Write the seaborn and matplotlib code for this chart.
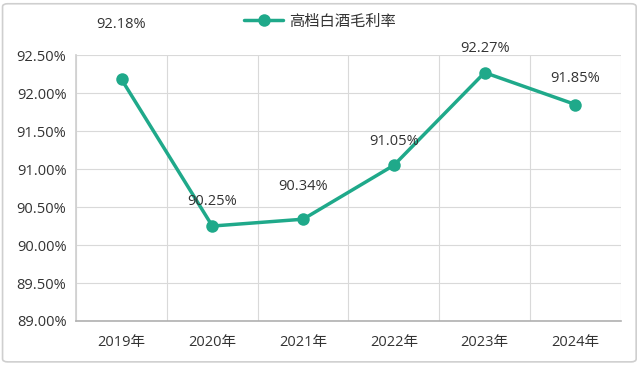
import matplotlib
matplotlib.use("Agg")
import matplotlib.pyplot as plt
import seaborn as sns
import pandas as pd
from matplotlib.patches import FancyBboxPatch

years = ["2019年", "2020年", "2021年", "2022年", "2023年", "2024年"]
margin = [92.18, 90.25, 90.34, 91.05, 92.27, 91.85]
series_name = "高档白酒毛利率"
label_offsets = [34, 12, 18, 12, 12, 13]  # points above marker, per label

sns.set_theme(style="white")
plt.rcParams['font.family'] = ['Open Sans', 'Noto Sans CJK SC', 'DejaVu Sans']

color = "#1fa98a"
df = pd.DataFrame({"year": range(len(years)), "margin": margin})

fig = plt.figure(figsize=(6.4, 3.75), dpi=100)
frame = FancyBboxPatch((0.004, 0.035), 0.99, 0.955, boxstyle="round,pad=0,rounding_size=0.008",
                       transform=fig.transFigure, facecolor="white", edgecolor="#cfcfcf", lw=1.2, zorder=-5)
fig.patches.append(frame)
ax = fig.add_axes([0.119, 0.144, 0.851, 0.709])
ax.patch.set_alpha(0)

sns.lineplot(data=df, x="year", y="margin", ax=ax, color=color, lw=2.5, marker="o",
             markersize=9, markeredgewidth=0, label=series_name, legend=False)

for i, v in enumerate(margin):
    ax.annotate(f"{v:.2f}%", (i, v), xytext=(0, label_offsets[i]), textcoords="offset points",
                ha="center", va="bottom", fontsize=10.5, color="#333333")

ax.set_xlim(-0.5, len(years) - 0.5)
ax.set_ylim(89, 92.5)
ax.set_yticks([89 + 0.5 * k for k in range(8)])
ax.set_yticklabels([f"{89 + 0.5 * k:.2f}%" for k in range(8)])
ax.set_xticks(range(len(years)))
ax.set_xticklabels(years)
ax.set_xticks([k - 0.5 for k in range(len(years) + 1)], minor=True)
ax.set_xlabel("")
ax.set_ylabel("")

ax.grid(axis="y", color="#d9d9d9", lw=0.8)
ax.grid(axis="x", which="minor", color="#d9d9d9", lw=0.8)
ax.tick_params(axis="x", which="major", length=0, labelsize=10.5, colors="#333333", pad=10)
ax.tick_params(axis="x", which="minor", length=5, color="#bfbfbf", width=0.8, direction="out")
ax.tick_params(axis="y", length=4, color="#bfbfbf", labelsize=10.5, colors="#333333", direction="out", pad=3)
for s in ["top", "right"]:
    ax.spines[s].set_visible(False)
ax.spines["left"].set_color("#d0d0d0")
ax.spines["bottom"].set_color("#b0b0b0")
ax.spines["bottom"].set_linewidth(1.2)

handles, labels = ax.get_legend_handles_labels()
leg = fig.legend(handles, labels, loc="center", bbox_to_anchor=(0.5, 0.941),
                 frameon=False, fontsize=11, handlelength=2.6, handletextpad=0.4)
for t in leg.get_texts():
    t.set_color("#333333")

fig.savefig("out.png", dpi=100)
